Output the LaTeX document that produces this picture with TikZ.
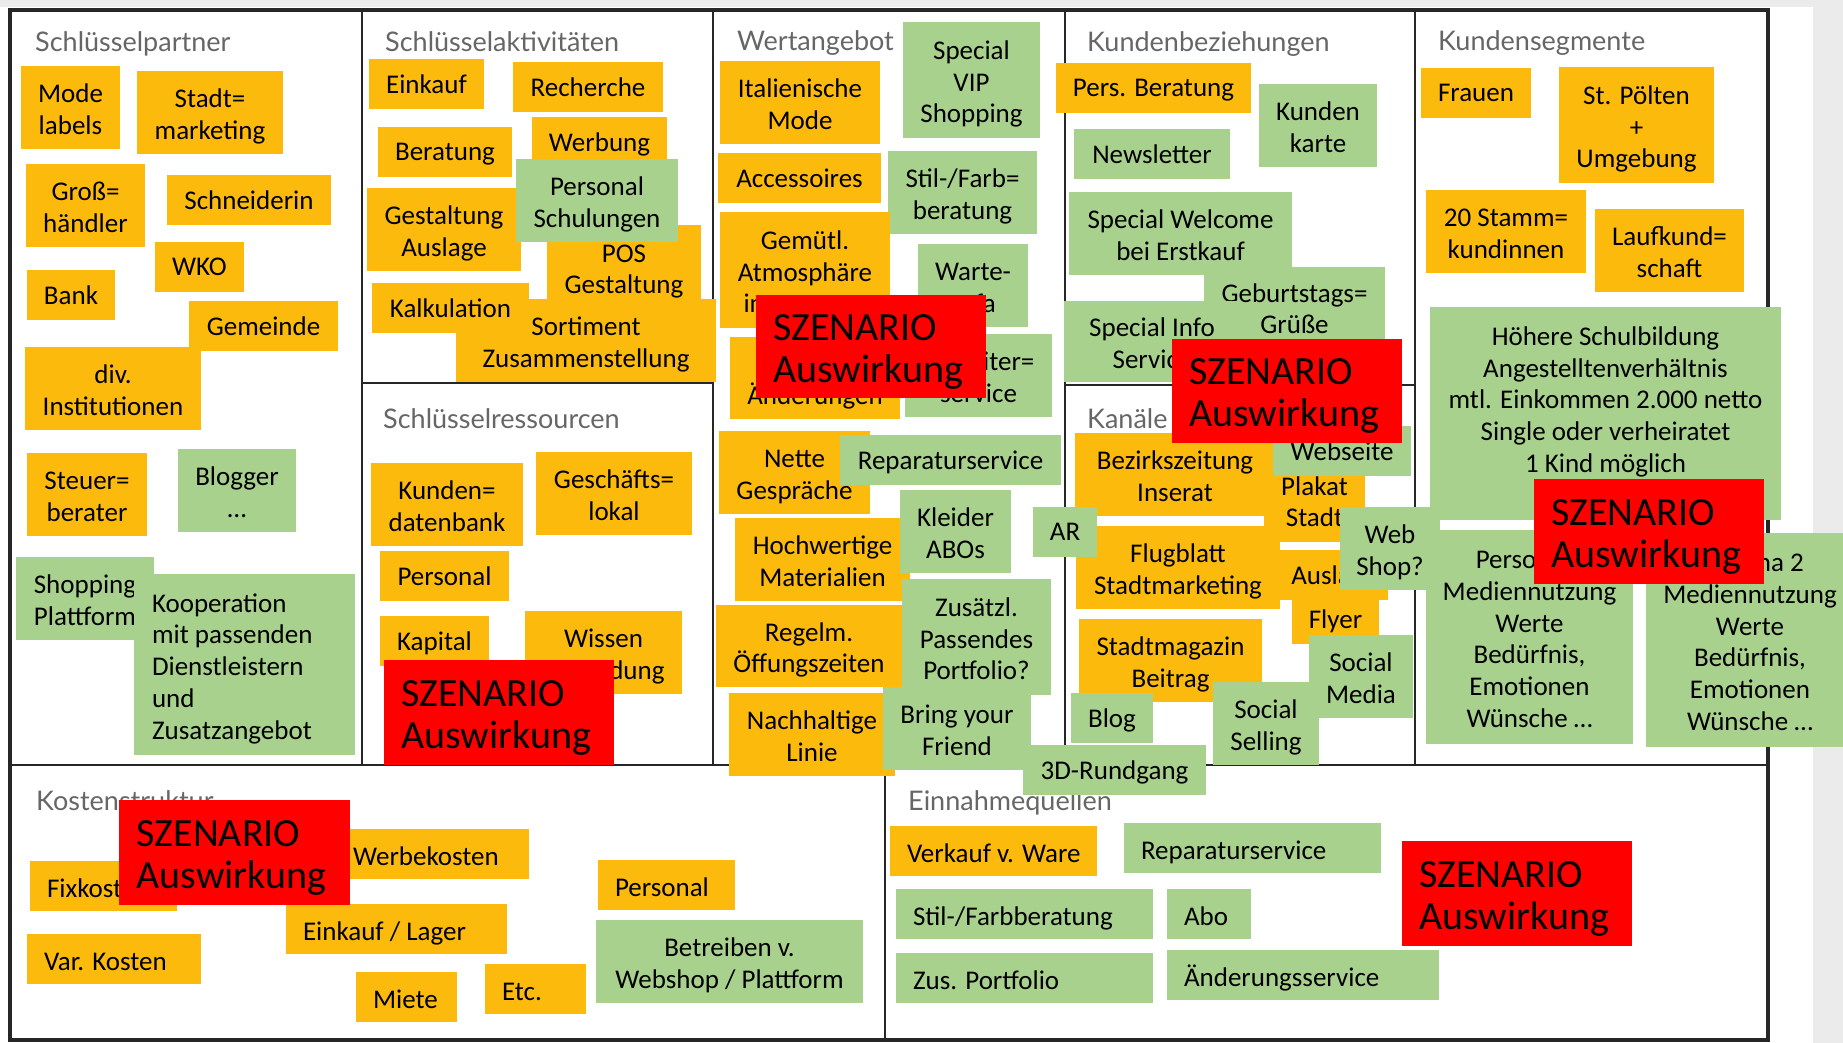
\documentclass[tikz,border=0pt]{standalone}
\usepackage{fontspec}
\setmainfont{Carlito}
\newfontfamily\titelfont{Lato}
\definecolor{orng}{RGB}{251,186,12}
\definecolor{lgrn}{RGB}{169,209,142}
\definecolor{rot}{RGB}{255,0,0}
\definecolor{linie}{RGB}{38,38,38}
% mehrzeiliger Zettel-Text: mittig bzw. links
\newcommand{\zeilen}[1]{\begin{tabular}[b]{@{}c@{}}#1\end{tabular}}
\newcommand{\links}[2]{\makebox[#1][l]{\begin{tabular}[b]{@{}l@{}}#2\end{tabular}}}
\tikzset{
    ecken/.style args={#1/#2/#3/#4}{
        at={({(#1+#3)/2},{(#2+#4)/2})},  % Mitte aus den Ecken
        minimum width={#3-#1},
        minimum height={#4-#2}
    },
    sticky/.style={
        rectangle,                % Haftnotiz
        fill=#1,                  % orng oder lgrn
        inner sep=0pt,
        text depth=0pt,           % Text optisch mittig
        font=\fontsize{27pt}{31.7pt}\selectfont
    },
    szenario/.style={
        rectangle,
        fill=rot,
        inner sep=0pt,
        text depth=0pt,
        font=\fontsize{40pt}{42pt}\selectfont
    },
    feldtitel/.style={
        anchor=base west,
        inner sep=0pt,
        text=black!60,
        font=\titelfont\fontsize{27pt}{30pt}\selectfont
    },
    rahmen/.style={draw=linie, line width=4pt},
    teiler/.style={draw=linie, line width=2.5pt}
}

\begin{document}
\begin{tikzpicture}[x=1pt, y=-1pt]
\useasboundingbox (0,0) rectangle (1843,1043);
\clip (0,0) rectangle (1843,1043);
\fill[white] (0,0) rectangle (1843,1043);
\fill[black!8] (0,0) rectangle (1843,7);
\fill[black!8] (1813,0) rectangle (1843,1043);

\draw[rahmen] (10,10) rectangle (1768,1040);
\draw[teiler] (362,10) -- (362,765);
\draw[teiler] (713,10) -- (713,765);
\draw[teiler] (1065,10) -- (1065,765);
\draw[teiler] (1415,10) -- (1415,765);
\draw[teiler] (362,383) -- (713,383);
\draw[teiler] (1065,385) -- (1415,385);
\draw[teiler] (10,765) -- (1768,765);
\draw[teiler] (885,765) -- (885,1040);

\node[feldtitel] (t-partner) at (35,52) {Schlüsselpartner};
\node[feldtitel] (t-aktiv) at (385,52) {Schlüsselaktivitäten};
\node[feldtitel] (t-ressourcen) at (383,428) {Schlüsselressourcen};
\node[feldtitel] (t-wert) at (737,51) {Wertangebot};
\node[feldtitel] (t-beziehung) at (1087,52) {Kundenbeziehungen};
\node[feldtitel] (t-kanaele) at (1087,428) {Kanäle};
\node[feldtitel] (t-segmente) at (1438,51) {Kundensegmente};
\node[feldtitel] (t-kosten) at (36,810) {Kostenstruktur};
\node[feldtitel] (t-einnahmen) at (908,810) {Einnahmequellen};

% Schlüsselpartner
\node[sticky=orng, ecken=21/66/120/149] (mode) {\zeilen{Mode\\labels}};
\node[sticky=orng, ecken=137/71/283/154] (stadtm) {\zeilen{Stadt=\\marketing}};
\node[sticky=orng, ecken=26/164/145/247] (gross) {\zeilen{Groß=\\händler}};
\node[sticky=orng, ecken=167/175/331/225] (schneid) {Schneiderin};
\node[sticky=orng, ecken=155/242/244/292] (wko) {WKO};
\node[sticky=orng, ecken=27/270/115/320] (bank) {Bank};
\node[sticky=orng, ecken=189/301/338/351] (gemeinde) {Gemeinde};
\node[sticky=orng, ecken=25/347/201/430] (instit) {\zeilen{div.\\Institutionen}};
\node[sticky=orng, ecken=27/453/147/536] (steuer) {\zeilen{Steuer=\\berater}};
\node[sticky=lgrn, ecken=178/449/296/532] (blogger) {\zeilen{Blogger\\…}};
\node[sticky=lgrn, ecken=16/557/154/640] (shopping) {\zeilen{Shopping\\Plattform}};
\node[sticky=lgrn, ecken=134/574/355/755] (koop)
  {\links{185pt}{Kooperation\\mit passenden\\Dienstleistern\\und\\Zusatzangebot}};

% Schlüsselaktivitäten
\node[sticky=orng, ecken=369/59/484/109] (einkauf) {Einkauf};
\node[sticky=orng, ecken=513/62/663/112] (recherche) {Recherche};
\node[sticky=orng, ecken=378/127/512/177] (beratung) {Beratung};
\node[sticky=orng, ecken=532/117/667/167] (werbung) {Werbung};
\node[sticky=orng, ecken=367/188/521/271] (auslage) {\zeilen{Gestaltung\\Auslage}};
\node[sticky=orng, ecken=547/225/701/309] (pos) {\zeilen{POS\\Gestaltung}};
\node[sticky=lgrn, ecken=516/159/678/242] (schulung) {\zeilen{Personal\\Schulungen}};
\node[sticky=orng, ecken=456/299/716/382] (sortiment) {\zeilen{Sortiment\\Zusammenstellung}};
\node[sticky=orng, ecken=372/283/529/333] (kalk) {Kalkulation};

% Schlüsselressourcen
\node[sticky=orng, ecken=371/463/523/546] (kundendb) {\zeilen{Kunden=\\datenbank}};
\node[sticky=orng, ecken=536/452/692/535] (lokal) {\zeilen{Geschäfts=\\lokal}};
\node[sticky=orng, ecken=380/551/509/601] (personal) {Personal};
\node[sticky=orng, ecken=380/616/489/666] (kapital) {Kapital};
\node[sticky=orng, ecken=525/611/682/694] (wissen) {\zeilen{Wissen\\Ausbildung}};

% Wertangebot
\node[sticky=orng, ecken=720/61/880/144] (italmode) {\zeilen{Italienische\\Mode}};
\node[sticky=lgrn, ecken=903/22/1040/138] (vip) {\zeilen{Special\\VIP\\Shopping}};
\node[sticky=orng, ecken=718/153/881/203] (access) {Accessoires};
\node[sticky=lgrn, ecken=888/151/1037/234] (stilfarb) {\zeilen{Stil-/Farb=\\beratung}};
\node[sticky=orng, ecken=720/212/890/328] (gemuetl) {\zeilen{Gemütl.\\Atmosphäre\\in unserem}};
\node[sticky=lgrn, ecken=918/244/1028/327] (warte) {\zeilen{Warte-\\sofa}};
\node[sticky=orng, ecken=730/337/900/419] (aenderung) {\zeilen{Schnelle\\Änderungen}};
\node[sticky=lgrn, ecken=905/334/1052/417] (begleit) {\zeilen{Begleiter=\\service}};
\node[sticky=orng, ecken=719/431/870/514] (nette) {\zeilen{Nette\\Gespräche}};
\node[sticky=lgrn, ecken=840/435/1061/485] (reparatur) {Reparaturservice};
\node[sticky=orng, ecken=735/518/910/601] (hochwertig) {\zeilen{Hochwertige\\Materialien}};
\node[sticky=lgrn, ecken=900/490/1011/573] (kleider) {\zeilen{Kleider\\ABOs}};
\node[sticky=orng, ecken=716/605/902/687] (regelm) {\zeilen{Regelm.\\Öffungszeiten}};
\node[sticky=lgrn, ecken=902/579/1051/695] (zusaetzl) {\zeilen{Zusätzl.\\Passendes\\Portfolio?}};
\node[sticky=orng, ecken=729/693/895/776] (nachhaltig) {\zeilen{Nachhaltige\\Linie}};
\node[sticky=lgrn, ecken=883/687/1031/770] (bring) {\zeilen{Bring your\\Friend}};

% Kundenbeziehungen
\node[sticky=orng, ecken=1056/63/1251/113] (persber) {Pers. Beratung};
\node[sticky=lgrn, ecken=1259/84/1377/167] (kkarte) {\zeilen{Kunden\\karte}};
\node[sticky=lgrn, ecken=1074/129/1230/179] (newsletter) {Newsletter};
\node[sticky=lgrn, ecken=1069/192/1292/275] (welcome) {\zeilen{Special Welcome\\bei Erstkauf}};
\node[sticky=lgrn, ecken=1204/267/1385/347] (geburtstag) {\zeilen{Geburtstags=\\Grüße}};
\node[sticky=lgrn, ecken=1064/301/1240/382] (specinfo) {\zeilen{Special Info\\Service}};

% Kanäle
\node[sticky=orng, ecken=1075/433/1275/516] (bezirk) {\zeilen{Bezirkszeitung\\Inserat}};
\node[sticky=orng, ecken=1264/458/1365/542] (plakat) {\zeilen{Plakat\\Stadt}};
\node[sticky=lgrn, ecken=1273/426/1411/476] (webseite) {Webseite};
\node[sticky=orng, ecken=1076/526/1280/609] (flugblatt) {\zeilen{Flugblatt\\Stadtmarketing}};
\node[sticky=orng, ecken=1292/594/1379/644] (flyer) {Flyer};
\node[sticky=orng, ecken=1280/550/1388/600] (kauslage) {Auslage};
\node[sticky=lgrn, ecken=1340/507/1440/590] (webshop) {\zeilen{Web\\Shop?}};
\node[sticky=orng, ecken=1079/619/1262/702] (stadtmag) {\zeilen{Stadtmagazin\\Beitrag}};
\node[sticky=lgrn, ecken=1309/635/1413/718] (socmedia) {\zeilen{Social\\Media}};
\node[sticky=lgrn, ecken=1071/693/1153/743] (blog) {Blog};
\node[sticky=lgrn, ecken=1213/682/1319/765] (socsell) {\zeilen{Social\\Selling}};
\node[sticky=lgrn, ecken=1033/507/1097/557] (ar) {AR};
\node[sticky=lgrn, ecken=1023/745/1206/795] (rundgang) {3D-Rundgang};

% Kundensegmente
\node[sticky=orng, ecken=1421/68/1531/118] (frauen) {Frauen};
\node[sticky=orng, ecken=1559/67/1714/183] (stpoelten) {\zeilen{St. Pölten\\+\\Umgebung}};
\node[sticky=orng, ecken=1426/190/1586/273] (stamm) {\zeilen{20 Stamm=\\kundinnen}};
\node[sticky=orng, ecken=1595/209/1744/292] (laufkund) {\zeilen{Laufkund=\\schaft}};
\node[sticky=lgrn, ecken=1430/307/1781/520] (hoehere)
  {\zeilen{Höhere Schulbildung\\Angestelltenverhältnis\\mtl. Einkommen 2.000 netto\\Single oder verheiratet\\1 Kind möglich\\\mbox{}}};
\node[sticky=lgrn, ecken=1426/530/1633/744] (persona1)
  {\zeilen{Persona 1\\Mediennutzung\\Werte\\Bedürfnis,\\Emotionen\\Wünsche …}};
\node[sticky=lgrn, ecken=1646/533/1854/747] (persona2)
  {\zeilen{Persona 2\\Mediennutzung\\Werte\\Bedürfnis,\\Emotionen\\Wünsche …}};

% Kostenstruktur
\node[sticky=orng, ecken=30/861/177/911] (fixkosten) {\links{113pt}{Fixkosten}};
\node[sticky=orng, ecken=336/829/529/879] (werbekosten) {\links{159pt}{Werbekosten}};
\node[sticky=orng, ecken=286/904/507/954] (einklager) {\links{187pt}{Einkauf / Lager}};
\node[sticky=orng, ecken=27/934/201/984] (varkosten) {\links{140pt}{Var. Kosten}};
\node[sticky=orng, ecken=356/972/457/1022] (miete) {\links{67pt}{Miete}};
\node[sticky=orng, ecken=485/964/586/1014] (etc) {\links{67pt}{Etc.}};
\node[sticky=orng, ecken=598/860/735/910] (kpersonal) {\links{103pt}{Personal}};
\node[sticky=lgrn, ecken=596/920/863/1003] (betreiben) {\zeilen{Betreiben v.\\Webshop / Plattform}};

% Einnahmequellen
\node[sticky=orng, ecken=890/826/1097/876] (verkauf) {\links{173pt}{Verkauf v. Ware}};
\node[sticky=lgrn, ecken=1124/823/1381/873] (ereparatur) {\links{223pt}{Reparaturservice}};
\node[sticky=lgrn, ecken=896/889/1153/939] (estil) {\links{223pt}{Stil-/Farbberatung}};
\node[sticky=lgrn, ecken=1167/889/1251/939] (abo) {\links{50pt}{Abo}};
\node[sticky=lgrn, ecken=896/953/1153/1003] (zusport) {\links{223pt}{Zus. Portfolio}};
\node[sticky=lgrn, ecken=1167/950/1439/1000] (aendservice) {\links{238pt}{Änderungsservice}};

% Szenarien
\node[szenario, ecken=384/660/614/765] (sz-ressourcen) {\links{196pt}{SZENARIO\\Auswirkung}};
\node[szenario, ecken=756/295/986/398] (sz-wert) {\links{196pt}{SZENARIO\\Auswirkung}};
\node[szenario, ecken=1172/339/1402/443] (sz-beziehung) {\links{196pt}{SZENARIO\\Auswirkung}};
\node[szenario, ecken=1534/479/1764/584] (sz-segmente) {\links{196pt}{SZENARIO\\Auswirkung}};
\node[szenario, ecken=119/800/350/905] (sz-kosten) {\links{196pt}{SZENARIO\\Auswirkung}};
\node[szenario, ecken=1402/841/1632/946] (sz-einnahmen) {\links{196pt}{SZENARIO\\Auswirkung}};
\end{tikzpicture}
\end{document}
